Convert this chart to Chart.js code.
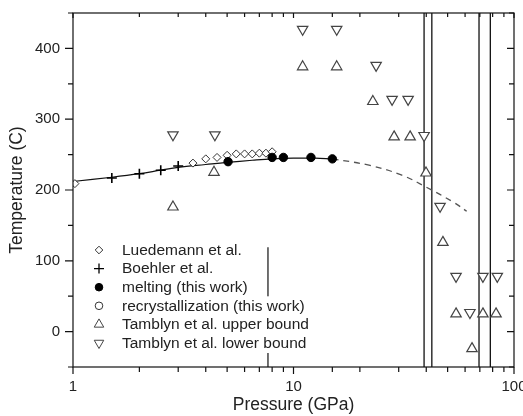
<!DOCTYPE html>
<html>
<head>
<meta charset="utf-8">
<script src="https://cdn.jsdelivr.net/npm/chart.js@4.4.0/dist/chart.umd.min.js"></script>
<style>
  html, body { margin: 0; padding: 0; background: #fff; }
</style>
</head>
<body>
<canvas id="chart" width="523" height="416"></canvas>
<script>
// pressure (GPa) / temperature (C)

const luedemannP = [1.02, 3.5, 4, 4.5, 5, 5.5, 6, 6.5, 7, 7.5, 8]
const luedemannT = [209, 238, 244, 246, 249, 251, 251, 251, 252, 252, 254]

const boehlerP = [1.5, 2, 2.5, 3]
const boehlerT = [217, 223, 228, 234]

const meltingP = [5.05, 8, 9, 12, 15]
const meltingT = [240, 246, 246, 246, 244]

// no open circles visible in the plot
const recrystP = []
const recrystT = []

const upperP = [2.84, 4.36, 11, 15.7, 22.9, 28.6, 33.8, 39.9, 47.6, 54.6, 64.5, 72.3, 82.9]
const upperT = [176, 225, 374, 374, 325, 275, 275, 224, 126, 25, -24, 25, 25]

const lowerP = [2.84, 4.4, 11, 15.7, 23.7, 28, 33.1, 39.1, 46.2, 54.6, 63.1, 72.3, 84]
const lowerT = [278, 278, 427, 427, 376, 328, 328, 277, 177, 78, 27, 78, 78]

// fitted melting curve (solid) and its extrapolation (dashed)
const fitP = [1, 1.5, 2, 2.5, 3, 4, 5, 6.5, 8, 10, 12.5, 15]
const fitT = [212, 218, 223, 228, 232, 236, 239, 242, 244, 245, 245, 244]
const extP = [15, 22, 31, 40, 53, 61]
const extT = [244, 235, 221, 204, 183, 170]

// vertical markers
const fullLinesP = [39.1, 42.4, 69.4, 78.1]
const shortLineP = 7.66
const shortLineT = [-50, 119]

const xMajor = [1, 10, 100]
const yMin = -50
const yMax = 450

const pts = (xs, ys) => xs.map((x, i) => ({ x: x, y: ys[i] }))

const FONT = '"Liberation Sans", Arial, Helvetica, sans-serif'
Chart.defaults.font.family = FONT
Chart.defaults.color = '#222'

const datasets = [
  {
    label: 'melting (this work)',
    data: pts(meltingP, meltingT),
    pointStyle: 'circle', pointRadius: 4.2,
    backgroundColor: '#000', borderColor: '#000', borderWidth: 1
  },
  {
    label: 'Luedemann et al.',
    data: pts(luedemannP, luedemannT),
    pointStyle: 'rectRot', pointRadius: 4,
    backgroundColor: '#fff', borderColor: '#333', borderWidth: 1
  },
  {
    label: 'Boehler et al.',
    data: pts(boehlerP, boehlerT),
    pointStyle: 'cross', pointRadius: 5,
    backgroundColor: '#000', borderColor: '#000', borderWidth: 1.6
  },
  {
    label: 'recrystallization (this work)',
    data: pts(recrystP, recrystT),
    pointStyle: 'circle', pointRadius: 3.8,
    backgroundColor: '#fff', borderColor: '#333', borderWidth: 1
  },
  {
    label: 'Tamblyn et al. upper bound',
    data: pts(upperP, upperT),
    pointStyle: 'triangle', pointRadius: 6,
    backgroundColor: '#fff', borderColor: '#444', borderWidth: 1.2
  },
  {
    label: 'Tamblyn et al. lower bound',
    data: pts(lowerP, lowerT),
    pointStyle: 'triangle', pointRotation: 180, pointRadius: 6,
    backgroundColor: '#fff', borderColor: '#444', borderWidth: 1.2
  },
  {
    label: 'fit',
    data: pts(fitP, fitT),
    showLine: true, pointRadius: 0, tension: 0.4,
    borderColor: '#111', borderWidth: 1.2
  },
  {
    label: 'extrapolation',
    data: pts(extP, extT),
    showLine: true, pointRadius: 0, tension: 0.4,
    borderColor: '#555', borderWidth: 1.3, borderDash: [6, 5]
  },
  {
    label: 'short marker',
    data: pts([shortLineP, shortLineP], shortLineT),
    showLine: true, pointRadius: 0,
    borderColor: '#111', borderWidth: 1.2
  }
]

fullLinesP.forEach(p => {
  datasets.push({
    label: 'marker ' + p,
    data: pts([p, p], [yMin, yMax]),
    showLine: true, pointRadius: 0,
    borderColor: '#111', borderWidth: 1.3
  })
})

const legendRows = [
  'Luedemann et al.',
  'Boehler et al.',
  'melting (this work)',
  'recrystallization (this work)',
  'Tamblyn et al. upper bound',
  'Tamblyn et al. lower bound'
]

// legend drawn inside the plot, text on white
const insideLegend = {
  id: 'insideLegend',
  afterDatasetsDraw(chart) {
    const ctx = chart.ctx
    const symX = 99
    const textX = 122
    const top = 250
    const step = 18.6
    ctx.save()
    ctx.font = '15.5px ' + FONT
    ctx.textBaseline = 'middle'
    legendRows.forEach((name, i) => {
      const ds = chart.data.datasets.find(d => d.label === name)
      const y = top + i * step
      const w = ctx.measureText(name).width
      ctx.fillStyle = '#fff'
      ctx.fillRect(textX - 2, y - 9.5, w + 4, 19.5)
      ctx.fillStyle = ds.backgroundColor
      ctx.strokeStyle = ds.borderColor
      ctx.lineWidth = ds.pointStyle === 'cross' ? 1.3 : 1
      Chart.helpers.drawPoint(ctx, {
        pointStyle: ds.pointStyle,
        rotation: ds.pointRotation || 0,
        radius: ds.pointStyle === 'triangle' ? 5.5 : (ds.pointStyle === 'cross' ? 5 : 3.8),
        borderWidth: 1
      }, symX, y)
      ctx.fillStyle = '#222'
      ctx.fillText(name, textX, y + 0.5)
    })
    ctx.restore()
  }
}

// box with mirrored ticks (outward bottom/left, inward top/right)
const frameTicks = {
  id: 'frameTicks',
  afterDatasetsDraw(chart) {
    const { ctx, chartArea: a } = chart
    const x = chart.scales.x
    const y = chart.scales.y
    ctx.save()
    ctx.strokeStyle = '#111'
    ctx.lineWidth = 1.2
    ctx.strokeRect(a.left, a.top, a.right - a.left, a.bottom - a.top)
    ctx.beginPath()
    x.ticks.forEach(t => {
      const px = x.getPixelForValue(t.value)
      const major = xMajor.includes(t.value)
      ctx.moveTo(px, a.bottom)
      ctx.lineTo(px, a.bottom + (major ? 7 : 5))
      ctx.moveTo(px, a.top)
      ctx.lineTo(px, a.top + (major ? 5 : 4))
    })
    y.ticks.forEach(t => {
      const py = y.getPixelForValue(t.value)
      const major = t.value % 100 === 0
      ctx.moveTo(a.left, py)
      ctx.lineTo(a.left - (major ? 8 : 5), py)
      ctx.moveTo(a.right, py)
      ctx.lineTo(a.right - (major ? 7 : 5), py)
    })
    ctx.stroke()
    ctx.restore()
  }
}

new Chart(document.getElementById('chart'), {
  type: 'scatter',
  data: { datasets: datasets },
  options: {
    responsive: false,
    animation: false,
    devicePixelRatio: 1,
    layout: { padding: { top: 13, right: 9, left: 0, bottom: 0 } },
    plugins: {
      legend: { display: false },
      tooltip: { enabled: false }
    },
    scales: {
      x: {
        type: 'logarithmic',
        min: 1,
        max: 100,
        grid: { display: false, drawTicks: false },
        border: { display: false },
        ticks: {
          autoSkip: false,
          maxRotation: 0,
          padding: 11,
          font: { size: 15 },
          color: '#222',
          callback: v => xMajor.includes(v) ? String(v) : ''
        },
        title: {
          display: true,
          text: 'Pressure (GPa)',
          font: { size: 17.5 },
          color: '#222',
          padding: { top: 0, bottom: 0 }
        },
        afterFit: s => {
          s.height = 49
          s.paddingLeft = 0
          s.paddingRight = 0
        }
      },
      y: {
        min: yMin,
        max: yMax,
        grid: { display: false, drawTicks: false },
        border: { display: false },
        ticks: {
          stepSize: 50,
          padding: 13,
          font: { size: 15 },
          color: '#222',
          callback: v => v % 100 === 0 ? String(v) : ''
        },
        title: {
          display: true,
          text: 'Temperature (C)',
          font: { size: 17.5 },
          color: '#222',
          padding: { top: 7, bottom: 0 }
        },
        afterFit: s => {
          s.width = 73
          s.paddingTop = 0
          s.paddingBottom = 0
        }
      }
    }
  },
  plugins: [insideLegend, frameTicks]
})
</script>
</body>
</html>
